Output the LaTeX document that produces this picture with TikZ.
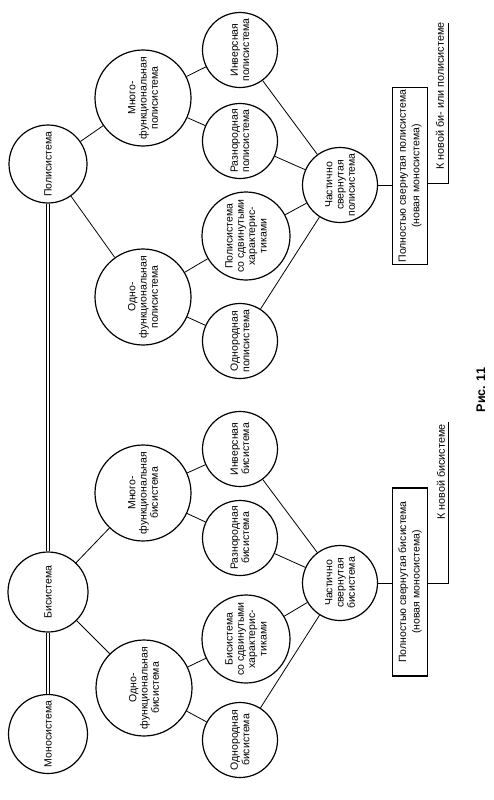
\documentclass[tikz,border=0pt]{standalone}
\usepackage{fontspec}
\setmainfont{Liberation Sans}
\usetikzlibrary{positioning}

\begin{document}
\begin{tikzpicture}[
  x=1pt, y=-1pt,
  sysNode/.style={circle, draw=black, line width=1.2pt, align=center, inner sep=0pt,
                  rotate=90, font=\fontsize{10.5}{11.3}\selectfont},
  bigNode/.style={sysNode, minimum size=96pt},
  midNode/.style={sysNode, minimum size=88pt},
  smallNode/.style={sysNode, minimum size=75pt},
  fullBox/.style={rectangle, draw=black, line width=1.2pt, align=center, rotate=90,
                  minimum height=35pt, inner sep=2pt, font=\fontsize{10.5}{13.5}\selectfont},
  noteText/.style={rotate=90, inner sep=0pt, font=\fontsize{10.8}{12}\selectfont},
  link/.style={line width=0.8pt},
  dlink/.style={draw=black, double=white, double distance=1.6pt, line width=0.8pt}
]
\useasboundingbox (0,0) rectangle (493,800);

% left column
\node[sysNode, minimum size=78pt] (poly) at (48,164) {Полисистема};
\node[sysNode, minimum size=80pt] (bi) at (48,592) {Бисистема};
\node[sysNode, minimum size=79pt] (mono) at (48,734) {Моносистема};

% functional level
\node[bigNode] (multiP) at (143,98) {Много-\\функциональная\\полисистема};
\node[bigNode] (oneP) at (143,297) {Одно-\\функциональная\\полисистема};
\node[bigNode] (multiB) at (143,493) {Много-\\функциональная\\бисистема};
\node[bigNode] (oneB) at (144,688) {Одно-\\функциональная\\бисистема};

% kinds
\node[smallNode] (invP) at (240,50) {Инверсная\\полисистема};
\node[smallNode] (hetP) at (240,141) {Разнородная\\полисистема};
\node[midNode] (shiftP) at (246,236) {Полисистема\\со сдвинутыми\\характерис-\\тиками};
\node[smallNode] (homP) at (240,341) {Однородная\\полисистема};
\node[smallNode] (invB) at (240,449) {Инверсная\\бисистема};
\node[smallNode] (hetB) at (240,538) {Разнородная\\бисистема};
\node[midNode] (shiftB) at (246,639) {Бисистема\\со сдвинутыми\\характерис-\\тиками};
\node[smallNode] (homB) at (240,740) {Однородная\\бисистема};

% folding
\node[smallNode] (partP) at (340,185) {Частично\\свернутая\\полисистема};
\node[smallNode] (partB) at (340,583) {Частично\\свернутая\\бисистема};
\node[fullBox, minimum width=168pt] (fullP) at (410,176) {Полностью свернутая полисистема\\(новая моносистема)};
\node[fullBox, minimum width=188pt] (fullB) at (410,582) {Полностью свернутая бисистема\\(новая моносистема)};

\coordinate (outP) at (448,23);
\coordinate (outB) at (448,422);
\node[noteText] (noteP) at (440,96) {К новой би- или полисистеме};
\node[noteText] (noteB) at (441,472) {К новой бисистеме};

\node[rotate=90, font=\fontsize{12.5}{14}\selectfont\bfseries] (fig) at (481,390) {Рис. 11};

\draw[dlink] (mono) -- (bi);
\draw[dlink] (bi) -- (poly);
\foreach \a/\b in {poly/multiP, poly/oneP, bi/multiB, bi/oneB,
                   multiP/invP, multiP/hetP, oneP/shiftP, oneP/homP,
                   multiB/invB, multiB/hetB, oneB/shiftB, oneB/homB,
                   invP/partP, hetP/partP, shiftP/partP, homP/partP,
                   invB/partB, hetB/partB, shiftB/partB, homB/partB}
  \draw[link] (\a) -- (\b);
\draw[link] (partP) -- (partP -| fullP.north);
\draw[link] (partB) -- (partB -| fullB.north);
\draw[link] (fullP.south |- 0,183) -| (outP);
\draw[link] (fullB.south |- partB) -| (outB);
\end{tikzpicture}
\end{document}
